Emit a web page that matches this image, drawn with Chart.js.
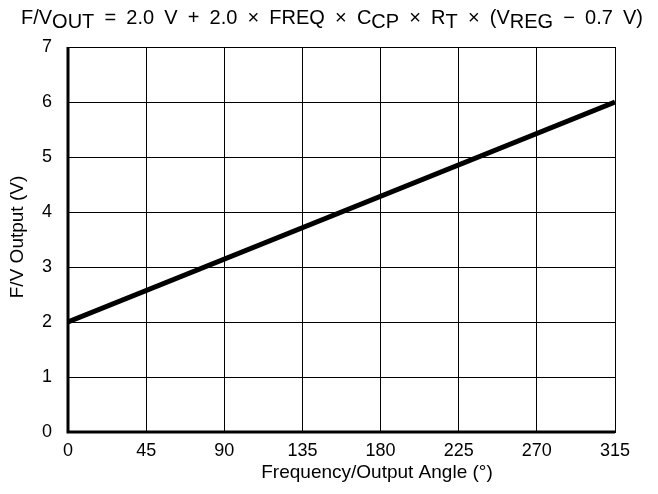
<!DOCTYPE html>
<html>
<head>
<meta charset="utf-8">
<script src="https://cdn.jsdelivr.net/npm/chart.js@4"></script>
<style>
html,body{margin:0;padding:0;background:#fff;}
#wrap{width:658px;height:494px;position:relative;}
</style>
</head>
<body>
<div id="wrap"><canvas id="c" width="658" height="494"></canvas></div>
<script>
const angles = [0, 315];
const outputs = [2.0, 6.0];
const xTicks = [0, 45, 90, 135, 180, 225, 270, 315];
const yTicks = [0, 1, 2, 3, 4, 5, 6, 7];
// [text, isSubscript, spaceBefore]
const titleParts = [
  ["F/V", false, false], ["OUT", true, false], ["=", false, true], ["2.0", false, true], ["V", false, true],
  ["+", false, true], ["2.0", false, true], ["\u00D7", false, true], ["FREQ", false, true],
  ["\u00D7", false, true], ["C", false, true], ["CP", true, false], ["\u00D7", false, true],
  ["R", false, true], ["T", true, false], ["\u00D7", false, true], ["(V", false, true],
  ["REG", true, false], ["\u2212", false, true], ["0.7", false, true], ["V)", false, true]
];
const xTitle = "Frequency/Output Angle (\u00B0)";
const yTitle = "F/V Output (V)";
const FONT = "'Liberation Sans', Arial, sans-serif";

const textPlugin = {
  id: 'texts',
  afterDraw(chart) {
    const ctx = chart.ctx;
    ctx.save();
    ctx.fillStyle = '#000';
    ctx.textBaseline = 'alphabetic';
    ctx.font = "20px " + FONT;
    const left = 21, right = 643;
    let textW = 0, nSpaces = 0;
    titleParts.forEach(p => { textW += ctx.measureText(p[0]).width; if (p[2]) nSpaces++; });
    const sp = (right - left - textW) / nSpaces;
    let x = left;
    const base = 24;
    titleParts.forEach(p => {
      if (p[2]) x += sp;
      ctx.fillText(p[0], x, p[1] ? base + 4 : base);
      x += ctx.measureText(p[0]).width;
    });
    ctx.font = "19px " + FONT;
    ctx.textAlign = 'center';
    ctx.textBaseline = 'middle';
    ctx.fillText(xTitle, 377, 473);
    ctx.translate(18, 237);
    ctx.rotate(-Math.PI / 2);
    ctx.fillText(yTitle, 0, 0);
    ctx.restore();
  }
};

const borderPlugin = {
  id: 'borders',
  afterDatasetsDraw(chart) {
    const a = chart.chartArea;
    const ctx = chart.ctx;
    ctx.save();
    ctx.strokeStyle = '#000';
    ctx.lineWidth = 3;
    ctx.beginPath();
    ctx.moveTo(a.left, a.top);
    ctx.lineTo(a.left, a.bottom);
    ctx.lineTo(a.right, a.bottom);
    ctx.stroke();
    ctx.restore();
  }
};

new Chart(document.getElementById('c'), {
  type: 'scatter',
  data: {
    datasets: [{
      data: angles.map((a, i) => ({x: a, y: outputs[i]})),
      showLine: true,
      borderColor: '#000',
      borderWidth: 5,
      pointRadius: 0,
      tension: 0
    }]
  },
  options: {
    responsive: false,
    animation: false,
    layout: {padding: {top: 47, right: 43, left: 0, bottom: 0}},
    plugins: {legend: {display: false}, tooltip: {enabled: false}},
    scales: {
      x: {
        type: 'linear', min: 0, max: 315,
        afterBuildTicks: s => { s.ticks = xTicks.map(v => ({value: v})); },
        afterFit: s => { s.height = 62; },
        grid: {color: '#000', lineWidth: 1, drawTicks: false},
        border: {color: '#000', width: 1},
        ticks: {color: '#000', font: {family: FONT, size: 18}, padding: 8, maxRotation: 0}
      },
      y: {
        type: 'linear', min: 0, max: 7,
        afterBuildTicks: s => { s.ticks = yTicks.map(v => ({value: v})); },
        afterFit: s => { s.width = 68; },
        grid: {color: '#000', lineWidth: 1, drawTicks: false},
        border: {color: '#000', width: 1},
        ticks: {color: '#000', font: {family: FONT, size: 18}, padding: 16}
      }
    }
  },
  plugins: [textPlugin, borderPlugin]
});
</script>
</body>
</html>
